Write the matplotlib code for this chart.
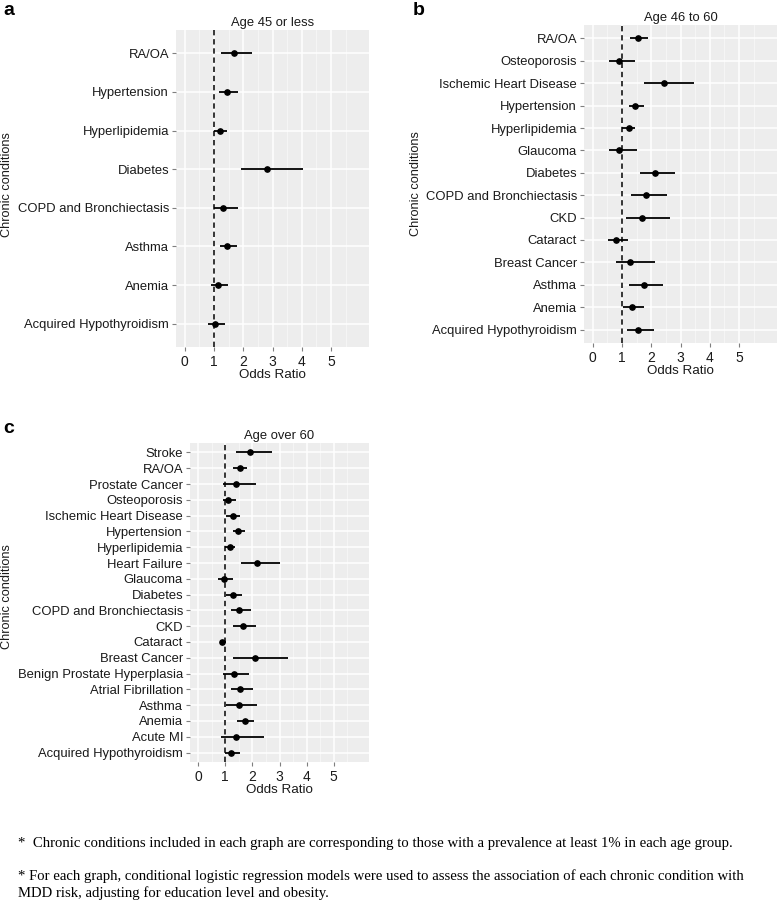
import numpy as np
import matplotlib
matplotlib.use("Agg")
import matplotlib.pyplot as plt

# ---- data (odds ratio, lower CI, upper CI), listed top -> bottom as drawn ----
cond_a = ["RA/OA", "Hypertension", "Hyperlipidemia", "Diabetes",
          "COPD and Bronchiectasis", "Asthma", "Anemia", "Acquired Hypothyroidism"]
or_a = [1.68, 1.45, 1.19, 2.80, 1.32, 1.45, 1.15, 1.05]
lo_a = [1.23, 1.16, 0.99, 1.93, 0.99, 1.19, 0.89, 0.81]
hi_a = [2.31, 1.82, 1.44, 4.06, 1.82, 1.77, 1.48, 1.39]

cond_b = ["RA/OA", "Osteoporosis", "Ischemic Heart Disease", "Hypertension",
          "Hyperlipidemia", "Glaucoma", "Diabetes", "COPD and Bronchiectasis",
          "CKD", "Cataract", "Breast Cancer", "Asthma", "Anemia",
          "Acquired Hypothyroidism"]
or_b = [1.55, 0.88, 2.44, 1.46, 1.24, 0.91, 2.12, 1.81, 1.70, 0.79, 1.28, 1.74, 1.35, 1.54]
lo_b = [1.29, 0.55, 1.74, 1.24, 1.01, 0.57, 1.61, 1.31, 1.13, 0.51, 0.80, 1.24, 1.05, 1.16]
hi_b = [1.88, 1.44, 3.46, 1.74, 1.46, 1.50, 2.81, 2.53, 2.63, 1.22, 2.12, 2.40, 1.74, 2.09]

cond_c = ["Stroke", "RA/OA", "Prostate Cancer", "Osteoporosis", "Ischemic Heart Disease",
          "Hypertension", "Hyperlipidemia", "Heart Failure", "Glaucoma", "Diabetes",
          "COPD and Bronchiectasis", "CKD", "Cataract", "Breast Cancer",
          "Benign Prostate Hyperplasia", "Atrial Fibrillation", "Asthma", "Anemia",
          "Acute MI", "Acquired Hypothyroidism"]
or_c = [1.92, 1.54, 1.39, 1.11, 1.30, 1.48, 1.16, 2.18, 0.97, 1.29,
        1.52, 1.66, 0.89, 2.08, 1.33, 1.55, 1.50, 1.71, 1.41, 1.22]
lo_c = [1.39, 1.30, 0.92, 0.90, 1.03, 1.28, 1.00, 1.59, 0.74, 1.02,
        1.21, 1.29, 0.80, 1.29, 0.93, 1.21, 1.03, 1.44, 0.84, 1.00]
hi_c = [2.72, 1.81, 2.12, 1.38, 1.56, 1.71, 1.37, 3.00, 1.29, 1.61,
        1.96, 2.14, 1.02, 3.31, 1.88, 2.02, 2.18, 2.07, 2.42, 1.56]

titles = ["Age 45 or less", "Age 46 to 60", "Age over 60"]
letters = ["a", "b", "c"]
x_ticks = [0, 1, 2, 3, 4, 5]

notes = ["*  Chronic conditions included in each graph are corresponding to those with a prevalence at least 1% in each age group.",
         "* For each graph, conditional logistic regression models were used to assess the association of each chronic condition with",
         "MDD risk, adjusting for education level and obesity."]

W, H = 778, 905
BG = "#EDEDED"
TXT = "#1a1a1a"
SANS = ["Liberation Sans", "DejaVu Sans"]
plt.rcParams["font.family"] = SANS

fig = plt.figure(figsize=(W / 100, H / 100), dpi=100)

def px_axes(l, t, r, b):
    return fig.add_axes([l / W, 1 - b / H, (r - l) / W, (b - t) / H])

# pixel boxes of each panel (left, top, right, bottom)
boxes = [(176, 30, 369, 347), (584, 25, 777, 343), (190, 443, 369, 762)]
letter_pos = [(3, 15), (413, 15), (3, 433)]
ylab_pos = [(7, 185), (416, 184), (7, 597)]
panels = [(cond_a, or_a, lo_a, hi_a), (cond_b, or_b, lo_b, hi_b), (cond_c, or_c, lo_c, hi_c)]

for i, (cond, orv, lo, hi) in enumerate(panels):
    ax = px_axes(*boxes[i])
    n = len(cond)
    ypos = np.arange(n)[::-1]
    ax.set_facecolor(BG)
    ax.set_axisbelow(True)
    ax.axvline(1, color="black", lw=1.1, ls=(0, (3.5, 2.5)), zorder=2)
    ax.hlines(ypos, lo, hi, color="black", lw=1.3, zorder=3)
    ax.plot(orv, ypos, "o", color="black", ms=3.8, zorder=4)
    ax.set_xlim(-0.3, 6.3)
    ax.set_ylim(-0.6, n - 0.4)
    ax.set_xticks(x_ticks)
    ax.set_xticks(np.arange(0.5, 6, 1.0), minor=True)
    ax.set_yticks(ypos)
    ax.set_yticklabels(cond)
    ax.grid(which="major", color="white", lw=1.1)
    ax.grid(which="minor", axis="x", color="#F7F7F7", lw=0.6)
    for s in ax.spines.values():
        s.set_visible(False)
    ax.tick_params(which="major", length=3, width=0.8, color="#7f7f7f",
                   labelsize=9.4, labelcolor=TXT, pad=2)
    ax.tick_params(axis="x", which="major", labelsize=10, pad=2.5)
    ax.tick_params(which="minor", length=0)
    ax.set_xlabel("Odds Ratio", fontsize=9.6, color=TXT, labelpad=0.5)
    ax.set_title(titles[i], fontsize=9.4, color=TXT, pad=3)
    lx, ly = letter_pos[i]
    fig.text(lx / W, 1 - ly / H, letters[i], fontsize=14, fontweight="bold",
             va="baseline", ha="left", color="black")
    yx, yy = ylab_pos[i]
    fig.text(yx / W, 1 - yy / H, "Chronic conditions", rotation=90, fontsize=9.2,
             ha="center", va="center", color=TXT)

note_y = [847, 880, 897]
for t, yb in zip(notes, note_y):
    fig.text(18 / W, 1 - yb / H, t, fontsize=10.6, family=["Liberation Serif", "DejaVu Serif"],
             va="baseline", ha="left", color="black")

fig.savefig("out.png", dpi=100, facecolor="white")
